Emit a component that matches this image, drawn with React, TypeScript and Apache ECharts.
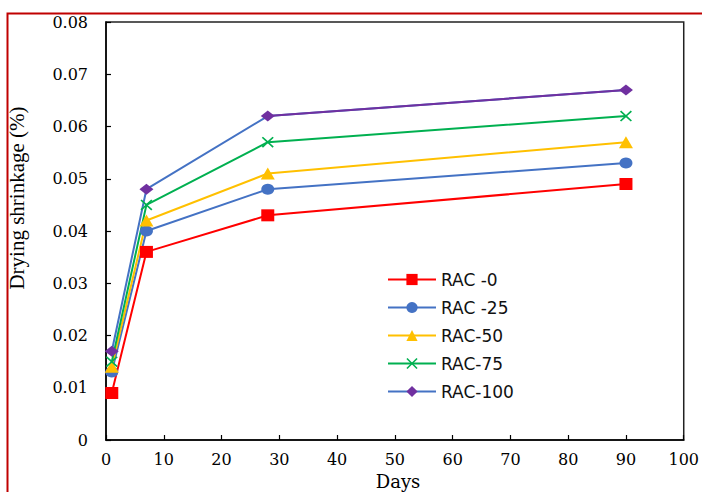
import React, { useEffect, useRef } from "react";
import * as echarts from "echarts";

const days = [1, 7, 28, 90];
const seriesNames = ["RAC -0", "RAC -25", "RAC-50", "RAC-75", "RAC-100"];
const rac0 = [0.009, 0.036, 0.043, 0.049];
const rac25 = [0.013, 0.040, 0.048, 0.053];
const rac50 = [0.014, 0.042, 0.051, 0.057];
const rac75 = [0.015, 0.045, 0.057, 0.062];
const rac100 = [0.017, 0.048, 0.062, 0.067];
const yTickLabels = ["0", "0.01", "0.02", "0.03", "0.04", "0.05", "0.06", "0.07", "0.08"];

const xMark = "path://M0,1 L1,0 L5,4 L9,0 L10,1 L6,5 L10,9 L9,10 L5,6 L1,10 L0,9 L4,5 Z";

const pair = (vals: number[]) => days.map((d, i) => [d, vals[i]]);

export default function App() {
  const ref = useRef<HTMLDivElement>(null);
  useEffect(() => {
    if (!ref.current) return;
    const chart = echarts.init(ref.current, null, { renderer: "svg" });
    const serif = "DejaVu Serif";
    const mk = (
      name: string,
      vals: number[],
      lineColor: string,
      symColor: string,
      symbol: string,
      size: any
    ) => ({
      name,
      type: "line",
      data: pair(vals),
      symbol,
      symbolSize: size,
      showAllSymbol: true,
      z: 3,
      lineStyle: { color: lineColor, width: 2 },
      itemStyle: { color: symColor, borderWidth: 0 },
      emphasis: { disabled: true },
    });
    chart.setOption({
      animation: false,
      backgroundColor: "#fff",
      grid: {
        left: 106,
        top: 22,
        right: 15,
        bottom: 52,
        show: true,
        borderColor: "#222",
        borderWidth: 1.5,
      },
      xAxis: {
        type: "value",
        min: 0,
        max: 100,
        interval: 10,
        splitLine: { show: false },
        axisLine: { show: true, lineStyle: { color: "#000", width: 1.5 } },
        axisTick: { show: true, inside: true, length: 5, lineStyle: { color: "#000", width: 1.2 } },
        axisLabel: { color: "#000", fontFamily: serif, fontSize: 16, margin: 11 },
      },
      yAxis: {
        type: "value",
        min: 0,
        max: 0.08,
        interval: 0.01,
        splitLine: { show: false },
        axisLine: { show: true, lineStyle: { color: "#000", width: 1.5 } },
        axisTick: { show: true, inside: true, length: 5, lineStyle: { color: "#000", width: 1.2 } },
        axisLabel: {
          color: "#000",
          fontFamily: serif,
          fontSize: 16,
          margin: 18,
          formatter: (v: number) => yTickLabels[Math.round(v * 100)] ?? "",
        },
      },
      legend: {
        data: seriesNames,
        orient: "vertical",
        left: 382,
        top: 266,
        itemWidth: 48,
        itemHeight: 14,
        itemGap: 11,
        textStyle: { fontFamily: "DejaVu Sans", fontSize: 17, lineHeight: 17, color: "#111" },
        selectedMode: false,
      },
      graphic: [
        {
          type: "rect",
          shape: { x: 7.5, y: 13.5, width: 760, height: 560 },
          style: { fill: "none", stroke: "#C00000", lineWidth: 2 },
          silent: true,
        },
        {
          type: "text",
          x: 17,
          y: 198,
          rotation: Math.PI / 2,
          style: {
            text: "Drying shrinkage (%)",
            fontFamily: "Liberation Serif",
            fontSize: 21,
            fill: "#000",
            align: "center",
            verticalAlign: "middle",
          },
        },
        {
          type: "text",
          x: 398,
          y: 481,
          style: {
            text: "Days",
            fontFamily: serif,
            fontSize: 18,
            fill: "#000",
            align: "center",
            verticalAlign: "middle",
          },
        },
      ],
      series: [
        mk(seriesNames[0], rac0, "#FF0000", "#FF0000", "rect", [13, 12]),
        mk(seriesNames[1], rac25, "#4472C4", "#4472C4", "circle", [13, 11]),
        mk(seriesNames[2], rac50, "#FFC000", "#FFC000", "triangle", [14, 12]),
        mk(seriesNames[3], rac75, "#00B050", "#00B050", xMark, [12, 11]),
        mk(seriesNames[4], rac100, "#4472C4", "#7030A0", "diamond", [14, 11]),
        {
          name: "RAC-100 tail",
          type: "line",
          data: pair(rac100).slice(2),
          showSymbol: false,
          symbol: "none",
          z: 4,
          lineStyle: { color: "#7030A0", width: 2 },
          itemStyle: { color: "#7030A0" },
          silent: true,
        },
      ],
    });
    return () => chart.dispose();
  }, []);
  return (
    <div
      ref={ref}
      style={{ position: "absolute", left: 0, top: 0, width: 702, height: 492 }}
    />
  );
}
